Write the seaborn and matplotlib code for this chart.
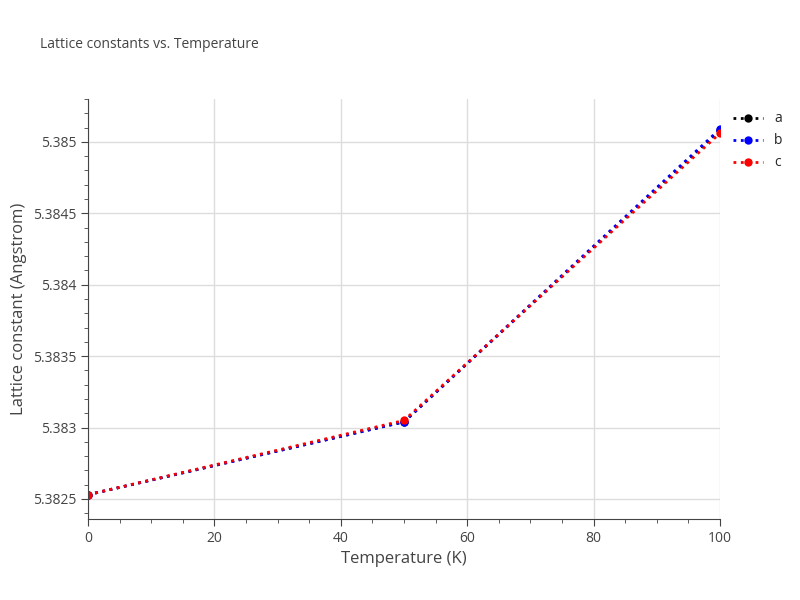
import pandas as pd
import matplotlib.pyplot as plt
import seaborn as sns

temps = [0, 50, 100]
lat_a = [5.38253, 5.38304, 5.38508]
lat_b = [5.38253, 5.38304, 5.38509]
lat_c = [5.38253, 5.38305, 5.38506]

df = pd.DataFrame({'T': temps * 3,
                   'val': lat_a + lat_b + lat_c,
                   'axis': ['a'] * 3 + ['b'] * 3 + ['c'] * 3})

sns.set_style('white')
plt.rcParams['font.family'] = ['Open Sans', 'DejaVu Sans']
fig = plt.figure(figsize=(8, 6), dpi=100)
ax = fig.add_axes([0.11, 0.135, 0.79, 0.7])

colors = {'a': 'black', 'b': 'blue', 'c': 'red'}
for name, grp in df.groupby('axis'):
    sns.lineplot(data=grp, x='T', y='val', ax=ax, color=colors[name], linestyle=':',
                 linewidth=2, marker='o', markersize=6, markeredgewidth=0, label=name)

ax.set_xlim(0, 100)
ax.set_ylim(5.38236, 5.38526)
ax.set_yticks([5.3825, 5.383, 5.3835, 5.384, 5.3845, 5.385])
ax.set_yticklabels(['5.3825', '5.383', '5.3835', '5.384', '5.3845', '5.385'])
ax.set_xticks([0, 20, 40, 60, 80, 100])
ax.set_xticks(range(0, 101, 5), minor=True)
ax.set_yticks([5.3825 + i * 0.0001 for i in range(-1, 29)], minor=True)
ax.grid(True, color='#dddddd', linewidth=1)
ax.tick_params(axis='both', which='major', labelsize=10, labelcolor='#444', length=5, color='#444', left=True, bottom=True)
ax.tick_params(axis='both', which='minor', length=3, color='#444', left=True, bottom=True)
for s in ['top', 'right']:
    ax.spines[s].set_visible(False)
for s in ['left', 'bottom']:
    ax.spines[s].set_color('#444')
ax.set_xlabel('Temperature (K)', fontsize=12, color='#444')
ax.set_ylabel('Lattice constant (Angstrom)', fontsize=12, color='#444')
fig.text(0.05, 0.92, 'Lattice constants vs. Temperature', fontsize=10, color='#444')
ax.legend(loc='upper left', bbox_to_anchor=(1.0, 1.0), frameon=False, fontsize=10, handlelength=2.2)

fig.savefig('out.png', dpi=100)
